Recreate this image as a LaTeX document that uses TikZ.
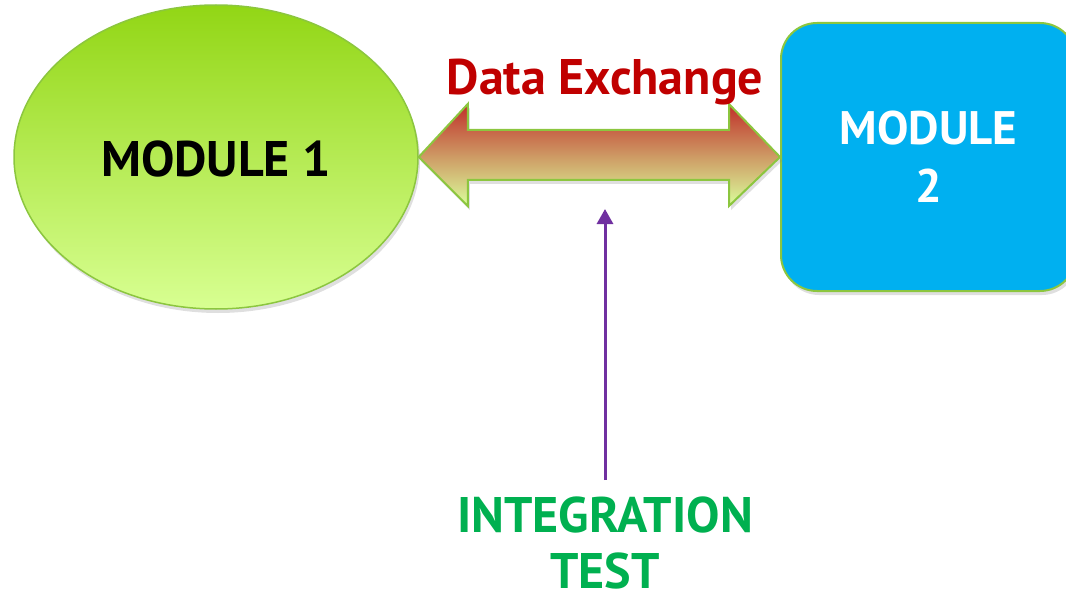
\documentclass[tikz,border=0pt]{standalone}
\usepackage{fontspec}
\setmainfont{PT Sans}
\usetikzlibrary{shadows,arrows.meta,calc,shapes.geometric}
\definecolor{gborder}{HTML}{8CC63F}
\definecolor{gtop}{HTML}{92D615}
\definecolor{gbot}{HTML}{D8FF92}
\definecolor{cyanbox}{HTML}{00B0F0}
\definecolor{darkred}{HTML}{C00000}
\definecolor{purp}{HTML}{7030A0}
\definecolor{grn}{HTML}{00B050}
\definecolor{arrtop}{HTML}{C0302A}
\definecolor{arrmid}{HTML}{C8763F}
\definecolor{arrbot}{HTML}{DBFF9C}
\tikzset{
  softshadow/.style={drop shadow={opacity=0.25,shadow xshift=2pt,shadow yshift=-4pt}},
}
\begin{document}
\begin{tikzpicture}[x=1pt,y=-1pt]
\useasboundingbox (0,0) rectangle (1066,599);
% Module 1
\node[ellipse, minimum width=404pt, minimum height=304pt, inner sep=0pt,
      draw=gborder, line width=1.5pt, top color=gtop, bottom color=gbot, softshadow] (m1) at (216,157) {};
\node[font=\fontsize{50}{57}\selectfont\bfseries, text=black, anchor=base] (m1t) at (216,177) {MODULE 1};
% Module 2
\node[rectangle, rounded corners=36pt, minimum width=295pt, minimum height=268pt, inner sep=0pt,
      draw=gborder, line width=2pt, fill=cyanbox, softshadow, text=white, align=center,
      font=\fontsize{47}{58}\selectfont\bfseries] (m2) at (928.5,157) {MODULE\\2};
% double arrow
\coordinate (L) at (m1.east);
\coordinate (R) at (m2.west);
\path[draw=gborder, line width=2pt, line join=miter, top color=arrtop, middle color=arrmid, bottom color=arrbot, softshadow]
  (L) -- ($(L)+(49,-53)$) -- ($(L)+(49,-27)$) -- ($(R)+(-51,-27)$) -- ($(R)+(-51,-53)$) -- (R)
  -- ($(R)+(-51,49)$) -- ($(R)+(-51,23)$) -- ($(L)+(49,23)$) -- ($(L)+(49,49)$) -- cycle;
\node[font=\fontsize{50}{57}\selectfont\bfseries, text=darkred, anchor=base] (dx) at (605,95) {Data Exchange};
% integration test
\node[font=\fontsize{50}{56}\selectfont\bfseries, text=grn, align=center, anchor=north, inner sep=0pt] (it) at (605,497) {INTEGRATION\\TEST};
\coordinate (src) at (605,480);
\coordinate (tip) at (605,209);
\draw[purp, line width=3pt, -{Triangle[width=16pt,length=15pt]}] (src) -- (tip);
\end{tikzpicture}
\end{document}
